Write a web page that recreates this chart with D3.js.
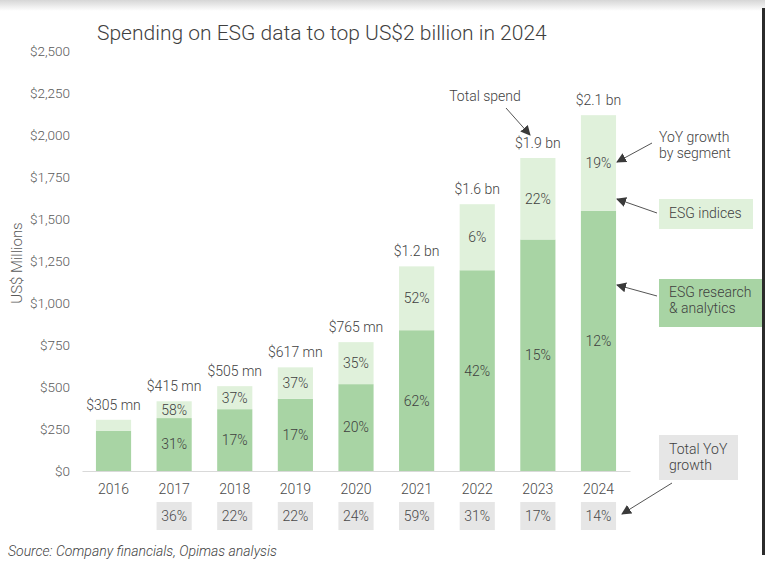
<!DOCTYPE html>
<html>
<head>
<meta charset="utf-8">
<script src="https://cdn.jsdelivr.net/npm/d3@7"></script>
<style>
  body { margin: 0; background: #fff; }
  svg { display: block; font-family: Roboto, "Open Sans", sans-serif; font-weight: 300; }
</style>
</head>
<body>
<svg id="chart" width="765" height="561"></svg>
<script>
// Chart data
const years = ["2016", "2017", "2018", "2019", "2020", "2021", "2022", "2023", "2024"];
const research = [240, 315, 368, 430, 517, 838, 1195, 1378, 1548];
const indices = [65, 100, 137, 187, 250, 380, 393, 485, 570];
const totalLabels = ["$305 mn", "$415 mn", "$505 mn", "$617 mn", "$765 mn", "$1.2 bn", "$1.6 bn", "$1.9 bn", "$2.1 bn"];
const researchGrowth = [null, "31%", "17%", "17%", "20%", "62%", "42%", "15%", "12%"];
const indicesGrowth = [null, "58%", "37%", "37%", "35%", "52%", "6%", "22%", "19%"];
const totalGrowth = [null, "36%", "22%", "22%", "24%", "59%", "31%", "17%", "14%"];
const yTicks = [0, 250, 500, 750, 1000, 1250, 1500, 1750, 2000, 2250, 2500];

const darkGreen = "#a8d4a4";
const lightGreen = "#e0f1db";
const greyBox = "#e6e6e6";
const textCol = "#3f3f3f";

const svg = d3.select("#chart");

// screenshot frame: faint top shadow and dark right edge
const defs = svg.append("defs");
const grad = defs.append("linearGradient")
    .attr("id", "topShade").attr("x1", 0).attr("y1", 0).attr("x2", 0).attr("y2", 1);
grad.append("stop").attr("offset", "0%").attr("stop-color", "#d6d6d6");
grad.append("stop").attr("offset", "100%").attr("stop-color", "#ffffff");
svg.append("rect").attr("x", 0).attr("y", 0).attr("width", 765).attr("height", 11).attr("fill", "url(#topShade)");
svg.append("rect").attr("x", 762).attr("y", 8).attr("width", 3).attr("height", 547).attr("fill", "#2b2b2b");

defs.append("marker")
    .attr("id", "arrow")
    .attr("viewBox", "0 0 10 10")
    .attr("refX", 9).attr("refY", 5)
    .attr("markerWidth", 10).attr("markerHeight", 10)
    .attr("markerUnits", "userSpaceOnUse")
    .attr("orient", "auto")
    .append("path")
    .attr("d", "M0,0 L10,5 L0,10 Z")
    .attr("fill", "#3a3a3a");

// Scales
const x = d3.scaleBand()
    .domain(years)
    .range([82, 630])
    .paddingInner(0.42)
    .paddingOuter(0.23);

const y = d3.scaleLinear()
    .domain([0, 2500])
    .range([471, 51]);

// Title
svg.append("text")
    .attr("x", 97)
    .attr("y", 40)
    .style("font-size", "21px")
    .attr("fill", textCol)
    .text("Spending on ESG data to top US$2 billion in 2024");

// Y axis
const yAxis = svg.append("g")
    .attr("transform", "translate(82,0)")
    .call(d3.axisLeft(y).tickValues(yTicks).tickSize(0).tickPadding(12)
        .tickFormat(d => "$" + d3.format(",")(d)));
yAxis.select(".domain").remove();
yAxis.selectAll("text")
    .style("font-size", "13.5px")
    .style("font-family", "Roboto, sans-serif")
    .style("font-weight", 300)
    .attr("fill", "#5a5a5a");

svg.append("text")
    .attr("transform", "translate(22,263) rotate(-90)")
    .attr("text-anchor", "middle")
    .style("font-size", "15px")
    .attr("fill", "#5a5a5a")
    .text("US$ Millions");

// Stacked bars
const bars = svg.append("g");
years.forEach((yr, i) => {
    const bx = x(yr);
    const bw = x.bandwidth();
    const total = research[i] + indices[i];
    bars.append("rect")
        .attr("x", bx).attr("width", bw)
        .attr("y", y(research[i]))
        .attr("height", y(0) - y(research[i]))
        .attr("fill", darkGreen);
    bars.append("rect")
        .attr("x", bx).attr("width", bw)
        .attr("y", y(total))
        .attr("height", y(research[i]) - y(total))
        .attr("fill", lightGreen);

    const cx = bx + bw / 2;
    if (researchGrowth[i]) {
        bars.append("text")
            .attr("x", cx)
            .attr("y", (y(0) + y(research[i])) / 2)
            .attr("dy", "0.35em")
            .attr("text-anchor", "middle")
            .style("font-size", "14px")
            .attr("fill", textCol)
            .text(researchGrowth[i]);
    }
    if (indicesGrowth[i]) {
        bars.append("text")
            .attr("x", cx)
            .attr("y", (y(research[i]) + y(total)) / 2)
            .attr("dy", "0.35em")
            .attr("text-anchor", "middle")
            .style("font-size", "14px")
            .attr("fill", textCol)
            .text(indicesGrowth[i]);
    }
    bars.append("text")
        .attr("x", cx)
        .attr("y", y(total) - 15)
        .attr("dy", "0.35em")
        .attr("text-anchor", "middle")
        .style("font-size", "14px")
        .attr("fill", textCol)
        .text(totalLabels[i]);

    // total YoY growth boxes under the axis
    if (totalGrowth[i]) {
        bars.append("rect")
            .attr("x", bx).attr("width", bw)
            .attr("y", 502).attr("height", 28)
            .attr("fill", greyBox);
        bars.append("text")
            .attr("x", cx)
            .attr("y", 516)
            .attr("dy", "0.35em")
            .attr("text-anchor", "middle")
            .style("font-size", "14px")
            .attr("fill", "#4a4a4a")
            .text(totalGrowth[i]);
    }
});

// X axis
const xAxis = svg.append("g")
    .attr("transform", `translate(0,${y(0)})`)
    .call(d3.axisBottom(x).tickSize(0).tickPadding(13));
xAxis.select(".domain").attr("stroke", "#d9d9d9");
xAxis.selectAll("text")
    .style("font-size", "14px")
    .style("font-family", "Roboto, sans-serif")
    .style("font-weight", 300)
    .attr("fill", "#4a4a4a");

// Annotations
const ann = svg.append("g").style("font-size", "14px").attr("fill", textCol);

function arrow(x1, y1, x2, y2) {
    ann.append("line")
        .attr("x1", x1).attr("y1", y1).attr("x2", x2).attr("y2", y2)
        .attr("stroke", "#555").attr("stroke-width", 1)
        .attr("marker-end", "url(#arrow)");
}

function multiline(tx, lines, y0) {
    lines.forEach((l, k) => {
        ann.append("text")
            .attr("x", tx).attr("y", y0 + k * 16)
            .attr("dy", "0.35em")
            .attr("fill", textCol)
            .text(l);
    });
}

ann.append("text").attr("x", 485).attr("y", 96).attr("dy", "0.35em")
    .attr("text-anchor", "middle").attr("fill", textCol).text("Total spend");
arrow(506, 108, 530, 135);

multiline(659, ["YoY growth", "by segment"], 137);
arrow(652, 143, 617, 162);

ann.append("rect").attr("x", 659).attr("y", 199).attr("width", 94).attr("height", 30).attr("fill", lightGreen);
multiline(669, ["ESG indices"], 213);
arrow(657, 213, 617, 199);

ann.append("rect").attr("x", 659).attr("y", 279).attr("width", 103).attr("height", 48).attr("fill", darkGreen);
multiline(669, ["ESG research", "& analytics"], 292);
arrow(657, 296, 617, 285);

ann.append("rect").attr("x", 659).attr("y", 435).attr("width", 79).attr("height", 45).attr("fill", greyBox);
multiline(669, ["Total YoY", "growth"], 449);
arrow(672, 483, 622, 514);

// Source
svg.append("text")
    .attr("x", 8)
    .attr("y", 556)
    .style("font-size", "14px")
    .style("font-style", "italic")
    .attr("fill", textCol)
    .text("Source: Company financials, Opimas analysis");
</script>
</body>
</html>
